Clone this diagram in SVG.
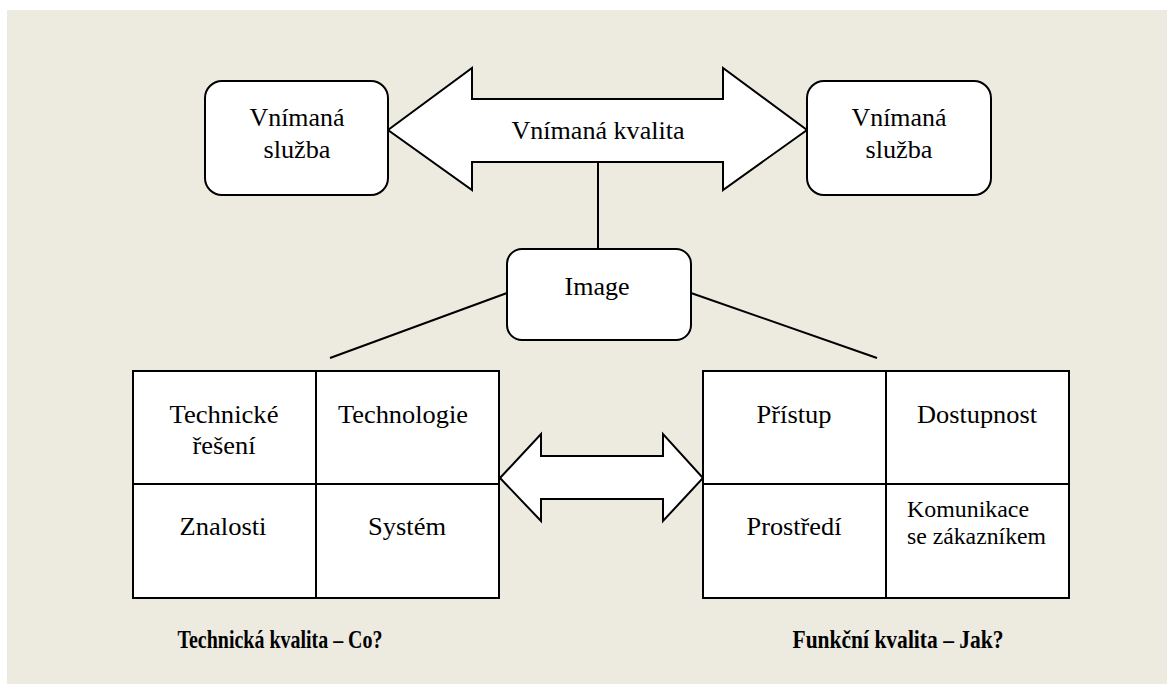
<svg xmlns="http://www.w3.org/2000/svg" width="1167" height="684" viewBox="0 0 1167 684">
<style>
.shape{fill:#ffffff;stroke:#000000;stroke-width:2;stroke-linejoin:miter}
.line{fill:none;stroke:#000000;stroke-width:2}
text{font-family:'Liberation Serif','Tinos','Times New Roman','DejaVu Serif',serif;fill:#000000}
.t{font-size:26px;text-anchor:middle}
.s{font-size:24px}
.b{font-size:26px;font-weight:bold;text-anchor:middle}
</style>
<rect x="7" y="10" width="1160" height="674" fill="#EDEAE0"/>
<g id="connectors">
<line class="line" x1="598" y1="162" x2="598" y2="249"/>
<line class="line" x1="507" y1="293" x2="330" y2="358"/>
<line class="line" x1="691" y1="293" x2="877" y2="358"/>
</g>
<g id="arrow-top">
<polygon class="shape" points="388,130 472,68 472,99 723,99 723,68 807,130 723,190 723,162 472,162 472,190"/>
<text class="t" x="598" y="139" textLength="173" lengthAdjust="spacingAndGlyphs">Vnímaná kvalita</text>
</g>
<g id="box-left">
<rect class="shape" x="205" y="81" width="183" height="114" rx="17"/>
<text class="t" x="297" y="126" textLength="95" lengthAdjust="spacingAndGlyphs">Vnímaná</text>
<text class="t" x="297" y="158" textLength="67" lengthAdjust="spacingAndGlyphs">služba</text>
</g>
<g id="box-right">
<rect class="shape" x="807" y="81" width="184" height="114" rx="17"/>
<text class="t" x="899" y="126" textLength="95" lengthAdjust="spacingAndGlyphs">Vnímaná</text>
<text class="t" x="899" y="158" textLength="67" lengthAdjust="spacingAndGlyphs">služba</text>
</g>
<g id="image">
<rect class="shape" x="507" y="249" width="184" height="91" rx="15"/>
<text class="t" x="597" y="295" textLength="65" lengthAdjust="spacingAndGlyphs">Image</text>
</g>
<g id="grid-left">
<rect class="shape" x="133" y="371" width="366" height="227"/>
<line class="line" x1="316" y1="371" x2="316" y2="598"/>
<line class="line" x1="133" y1="484" x2="499" y2="484"/>
<text class="t" x="224" y="423" textLength="109" lengthAdjust="spacingAndGlyphs">Technické</text>
<text class="t" x="224" y="454" textLength="63" lengthAdjust="spacingAndGlyphs">řešení</text>
<text class="t" x="403" y="423" textLength="130" lengthAdjust="spacingAndGlyphs">Technologie</text>
<text class="t" x="223" y="535" textLength="87" lengthAdjust="spacingAndGlyphs">Znalosti</text>
<text class="t" x="407" y="535" textLength="78" lengthAdjust="spacingAndGlyphs">Systém</text>
</g>
<g id="arrow-middle">
<polygon class="shape" points="500,478 541,434 541,456 663,456 663,434 703,478 663,521 663,499 541,499 541,521"/>
</g>
<g id="grid-right">
<rect class="shape" x="703" y="371" width="366" height="227"/>
<line class="line" x1="886" y1="371" x2="886" y2="598"/>
<line class="line" x1="703" y1="484" x2="1069" y2="484"/>
<text class="t" x="794" y="423" textLength="75" lengthAdjust="spacingAndGlyphs">Přístup</text>
<text class="t" x="977" y="423" textLength="120" lengthAdjust="spacingAndGlyphs">Dostupnost</text>
<text class="t" x="794" y="535" textLength="95" lengthAdjust="spacingAndGlyphs">Prostředí</text>
<text class="s" x="907" y="517" textLength="122" lengthAdjust="spacingAndGlyphs">Komunikace</text>
<text class="s" x="907" y="544" textLength="139" lengthAdjust="spacingAndGlyphs">se zákazníkem</text>
</g>
<g id="label-left">
<text class="b" x="280" y="648" textLength="205" lengthAdjust="spacingAndGlyphs">Technická kvalita – Co?</text>
</g>
<g id="label-right">
<text class="b" x="898" y="648" textLength="211" lengthAdjust="spacingAndGlyphs">Funkční kvalita – Jak?</text>
</g>
</svg>
